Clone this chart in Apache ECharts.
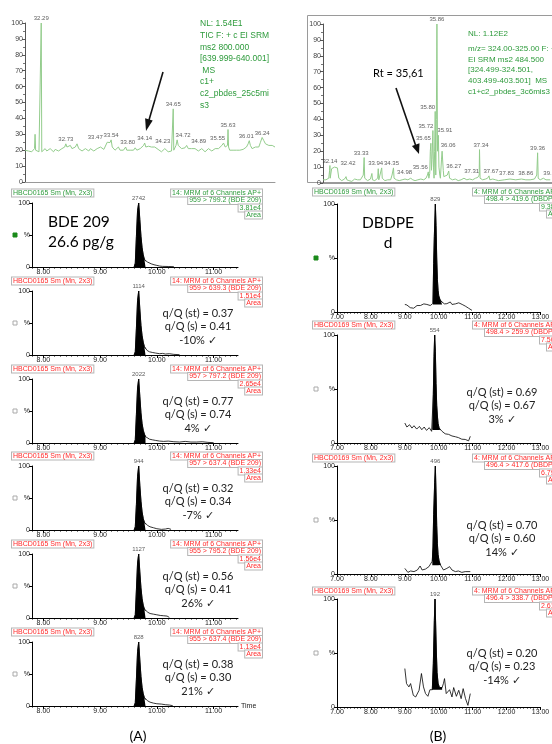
<!DOCTYPE html>
<html>
<head>
<meta charset="utf-8">
<script src="https://cdn.jsdelivr.net/npm/echarts@6/dist/echarts.min.js"></script>
<style>html,body{margin:0;padding:0;background:#fff}#main{width:552px;height:744px}</style>
</head>
<body>
<div id="main"></div>
<script>
// ---- top left: TIC survey trace (rel. abundance %) ----
var ticTrace = [[32.00,20],[32.03,21],[32.06,19.5],[32.09,20.5],[32.12,19],[32.15,20],[32.17,21],[32.18,30],[32.19,20],[32.22,19.5],[32.25,19],[32.28,19.5],[32.29,100],[32.30,19],
  [32.33,20],[32.36,21],[32.39,19.5],[32.42,20],[32.45,21],[32.48,20],[32.51,19],[32.54,20.5],[32.57,21],[32.60,19.5],[32.63,20],[32.66,21],[32.69,20],[32.71,22],[32.73,24],[32.75,22],
  [32.78,21],[32.81,23],[32.84,21],[32.87,20],[32.90,22],[32.93,24],[32.96,21],[32.99,20],[33.02,19.5],[33.05,20.5],[33.08,21],[33.11,20],[33.14,19.5],[33.17,21],[33.20,20],[33.23,19.5],
  [33.26,20],[33.29,21],[33.32,20],[33.35,22],[33.38,21],[33.41,20.5],[33.44,21],[33.47,25],[33.50,24.5],[33.52,24.8],[33.54,26.5],[33.56,22],[33.58,21],[33.61,20],[33.64,21],[33.67,22],
  [33.70,20],[33.73,19.5],[33.76,20],[33.78,21],[33.80,22],[33.82,20],[33.85,19],[33.88,20],[33.91,21],[33.94,20],[33.97,21.5],[34.00,20],[34.03,19.5],[34.06,21],[34.09,22],[34.12,23],
  [34.14,24.5],[34.16,22],[34.19,23],[34.21,22.5],[34.23,22.5],[34.26,22],[34.29,21.5],[34.32,22],[34.35,21],[34.38,20.5],[34.41,21],[34.44,19],[34.47,20],[34.50,21],[34.53,20],[34.56,19],
  [34.59,20],[34.62,19.5],[34.64,20],[34.65,46],[34.66,20],[34.68,21],[34.70,23],[34.72,26.5],[34.74,23],[34.77,22],[34.80,21],[34.83,22],[34.86,21.5],[34.89,23],[34.92,21],[34.95,20],
  [34.98,21],[35.01,22],[35.04,21],[35.07,20],[35.10,19.5],[35.13,20.5],[35.16,21],[35.19,20],[35.22,19],[35.25,20],[35.28,21],[35.31,20],[35.34,19.5],[35.37,20.5],[35.40,21],[35.43,22],
  [35.46,21],[35.49,22],[35.52,23],[35.55,24.5],[35.58,22],[35.61,21],[35.62,23],[35.63,33],[35.64,22],[35.66,20],[35.69,19.5],[35.72,20],[35.75,21],[35.78,20],[35.81,19.5],[35.84,20],
  [35.87,21],[35.90,20.5],[35.93,21],[35.96,22],[35.99,24],[36.01,26],[36.03,23],[36.06,21],[36.09,21.5],[36.12,22],[36.15,21],[36.18,22],[36.21,25],[36.24,28],[36.27,26],[36.30,24],
  [36.33,25],[36.36,23],[36.39,22],[36.42,23],[36.45,22],[36.47,22]];
var ticPeakTimes   = [32.29, 32.73, 33.47, 33.54, 33.80, 34.14, 34.23, 34.65, 34.72, 34.89, 35.55, 35.63, 36.01, 36.24];
var ticPeakHeights = [100,   24,    25,    26.5,  22,    24.5,  22.5,  46,    26.5,  23,    24.5,  33,    26,    28];
var ticInfo = ['NL: 1.54E1', 'TIC F: + c EI SRM', 'ms2 800.000', '[639.999-640.001]', ' MS', 'c1+', 'c2_pbdes_25c5mi', 's3'];

// ---- top right: SRM survey trace ----
var srmTrace = [[31.90,2],[31.95,1],[32.00,2],[32.05,1.5],[32.10,3],[32.13,8],[32.14,11],[32.15,3],[32.18,2],[32.20,9],[32.25,9.5],[32.30,10],[32.35,10],[32.40,9.5],[32.42,9.5],[32.45,3],
  [32.50,2],[32.55,1.5],[32.60,2],[32.65,2.5],[32.70,4],[32.73,2],[32.80,1.5],[32.85,2],[32.90,1],[32.95,2],[33.00,2.5],[33.05,1.5],[33.10,2],[33.15,1.5],[33.20,2],[33.25,3],[33.30,5],
  [33.33,16],[33.35,3],[33.40,2],[33.45,1.5],[33.50,2],[33.55,2.5],[33.60,6],[33.62,2],[33.70,1.5],[33.75,2],[33.80,3],[33.82,9],[33.84,2],[33.90,3],[33.94,9.5],[33.96,3],[34.00,2],
  [34.05,1.5],[34.10,2],[34.15,2],[34.20,3],[34.25,2],[34.30,5],[34.35,9.5],[34.37,3],[34.45,2],[34.55,1.5],[34.65,2],[34.75,2.5],[34.85,2],[34.95,3],[34.98,4],[35.02,2],[35.10,1.5],
  [35.20,2],[35.30,2.5],[35.40,2],[35.48,3],[35.53,5],[35.56,7],[35.58,3],[35.61,6],[35.63,20],[35.65,25],[35.67,8],[35.69,15],[35.72,33],[35.74,10],[35.76,3],[35.78,20],[35.80,45],
  [35.82,5],[35.84,40],[35.86,100],[35.88,20],[35.90,28],[35.91,30],[35.93,10],[35.96,5],[35.98,3],[36.02,15],[36.04,20],[36.06,21],[36.08,8],[36.10,4],[36.15,3],[36.22,5],[36.27,7.5],
  [36.30,3],[36.40,2],[36.50,2.5],[36.60,1.5],[36.70,2],[36.80,3],[36.90,2],[37.00,2.5],[37.10,2],[37.20,3],[37.28,3.5],[37.31,4.5],[37.33,5],[37.34,21],[37.36,3],[37.45,2],[37.55,2.5],
  [37.62,3],[37.67,4.5],[37.70,2],[37.80,2.5],[37.83,3],[37.90,2],[38.00,1.5],[38.20,2],[38.40,2.5],[38.60,2],[38.80,2.5],[38.86,3],[38.95,2],[39.10,2],[39.25,2.5],[39.33,5],[39.36,19],
  [39.38,3],[39.45,2],[39.56,3],[39.65,2],[39.80,2]];
var srmPeakTimes   = [32.14, 32.42, 33.33, 33.94, 34.35, 34.98, 35.56, 35.65, 35.72, 35.80, 35.86, 35.91, 36.06, 36.27, 37.31, 37.34, 37.67, 37.83, 38.86, 39.36, 39.56];
var srmPeakHeights = [11,    9.5,   16,    9.5,   9.5,   4,     7,     25,    33,    45,    100,   30,    21,    7.5,   4.5,   21,    4.5,   3,     3,     19,    3];
var srmInfo = ['NL: 1.12E2', 'm/z= 324.00-325.00 F: + c', 'EI SRM ms2 484.500', '[324.499-324.501,', '403.499-403.501]  MS', 'c1+c2_pbdes_3c6mis3'];

// label nudges (px) the instrument software applied to keep peak labels apart
var ticLabelDx = [0, 0, -12, 0, 2, 0, 13, 0, 6, 12, -6, 0, -3, 0];
var srmLabelDx = [0, 10, -3, -6, -2, -7, -8, -7.5, -7, -7.5, 0, 6.5, 5.5, 5, -7, 1.5, 2, 13, 2.5, 0, 7.5];

// ---- (A) BDE 209 MRM channels ----
var bde799  = [[9.60,0],[9.62,6],[9.64,48],[9.66,88],[9.68,100],[9.70,74],[9.72,48],[9.74,30],[9.76,19],[9.78,12],[9.80,9],[9.83,8],[9.86,7],[9.90,5],[9.95,3.5],[10.00,2.5],[10.05,1.5],[10.10,1],[10.20,0.8],[10.30,0.5]];
var bde639  = [[9.60,0],[9.62,5],[9.64,42],[9.66,85],[9.68,100],[9.70,72],[9.72,46],[9.74,30],[9.76,20],[9.78,13],[9.80,10],[9.83,7],[9.87,5],[9.92,4],[9.98,3],[10.05,2],[10.10,2.5],[10.15,1.5],[10.22,2],[10.30,1],[10.40,0.5]];
var bde797  = [[9.60,0],[9.62,5],[9.64,45],[9.66,86],[9.68,100],[9.70,73],[9.72,47],[9.74,30],[9.76,20],[9.78,14],[9.80,10],[9.83,8],[9.87,6],[9.92,5],[9.98,4],[10.05,3],[10.12,2.5],[10.20,3],[10.30,2],[10.40,1.5],[10.50,2.5],[10.60,1.5],[10.70,1.5],[10.80,2],[10.90,1],[11.00,0.5]];
var bde637a = [[9.60,0],[9.62,5],[9.64,40],[9.66,84],[9.68,100],[9.70,70],[9.72,45],[9.74,28],[9.76,18],[9.78,12],[9.80,9],[9.84,7],[9.88,5],[9.94,3.5],[10.00,2],[10.08,1],[10.15,1.5],[10.20,2.5],[10.25,1]];
var bde795  = [[9.60,0],[9.62,5],[9.64,44],[9.66,86],[9.68,100],[9.70,72],[9.72,47],[9.74,30],[9.76,20],[9.78,14],[9.80,11],[9.84,9],[9.88,7],[9.94,6],[10.00,5],[10.06,4],[10.12,3.5],[10.18,3],[10.22,1]];
var bde637b = [[9.60,0],[9.62,5],[9.64,42],[9.66,85],[9.68,100],[9.70,72],[9.72,46],[9.74,29],[9.76,19],[9.78,13],[9.80,10],[9.84,8],[9.88,6],[9.94,4.5],[10.00,3.5],[10.08,3],[10.15,2],[10.22,1.5],[10.28,0.5]];
var bdeTraces = [bde799, bde639, bde797, bde637a, bde795, bde637b];
var bdePeakTime = 9.68;
var bdePeakHeights = [2742, 1114, 2022, 944, 1127, 828];
var bdeFill = [9.60, 9.80];
var bdeTransitions = ['959 > 799.2 (BDE 209)', '959 > 639.3 (BDE 209)', '957 > 797.2 (BDE 209)', '957 > 637.4 (BDE 209)', '955 > 795.2 (BDE 209)', '955 > 637.4 (BDE 209)'];
var bdeAreas = ['3.81e4', '1.51e4', '2.65e4', '1.33e4', '1.56e4', '1.13e4'];
var bdeNotes = [null,
  ['q/Q (st) = 0.37', 'q/Q (s) = 0.41', '-10% \u2713'],
  ['q/Q (st) = 0.77', 'q/Q (s) = 0.74', '4% \u2713'],
  ['q/Q (st) = 0.32', 'q/Q (s) = 0.34', '-7% \u2713'],
  ['q/Q (st) = 0.56', 'q/Q (s) = 0.41', '26% \u2713'],
  ['q/Q (st) = 0.38', 'q/Q (s) = 0.30', '21% \u2713']];
var bdeTicks = [8, 9, 10, 11];

// ---- (B) DBDPE MRM channels ----
var dbdpe419 = [[9.00,7],[9.06,6.5],[9.11,5.6],[9.16,4],[9.21,2.5],[9.26,3.5],[9.31,4.6],[9.36,6],[9.41,6.8],[9.46,6],[9.51,6.2],[9.56,7.5],[9.60,8.7],[9.65,7],[9.70,6.8],[9.75,6],[9.80,7.7],[9.83,8],
  [9.85,45],[9.87,70],[9.90,100],[9.92,80],[9.94,50],[9.96,30],[9.98,20],[10.00,15],[10.03,12],[10.06,10],[10.10,9.8],[10.17,7.5],[10.24,7.7],[10.29,9],[10.34,9.3],[10.39,7],[10.44,5.6],
  [10.49,7.5],[10.54,7.7],[10.59,8.5],[10.64,6.8],[10.69,7],[10.73,7],[10.78,5.5],[10.83,4.6],[10.88,3.5],[10.93,2.2],[10.98,1.5]];
var dbdpe259 = [[9.00,18.5],[9.06,14.8],[9.14,16.9],[9.21,13.8],[9.27,16],[9.35,12.9],[9.43,15.4],[9.50,12.3],[9.57,14.8],[9.64,11.7],[9.72,14.2],[9.79,10.8],[9.82,12.3],[9.84,45],[9.86,80],
  [9.88,100],[9.90,85],[9.92,55],[9.94,35],[9.96,25],[9.98,18],[10.01,14],[10.04,12.3],[10.09,11],[10.14,9.2],[10.19,8.5],[10.24,7.7],[10.29,8],[10.34,6.2],[10.39,6.5],[10.44,5.5],[10.49,5.8],
  [10.53,4.6],[10.58,5],[10.63,4.6],[10.68,3.5],[10.73,3.1],[10.78,3.3],[10.83,2.5],[10.88,2],[10.93,6.2]];
var dbdpe417 = [[9.00,5.2],[9.09,1.5],[9.17,2.8],[9.27,2.2],[9.37,3.7],[9.45,7.4],[9.51,3.7],[9.61,4.6],[9.71,6.8],[9.81,12],[9.83,25],[9.85,55],[9.88,85],[9.90,100],[9.92,75],[9.94,45],
  [9.96,28],[9.98,18],[10.01,12],[10.05,8.3],[10.14,3.7],[10.24,5.2],[10.32,6.8],[10.39,3.7],[10.49,2.2],[10.58,2.8],[10.68,1.5],[10.78,2.2],[10.93,2.2]];
var dbdpe338 = [[9.00,35.6],[9.05,21.7],[9.12,18.6],[9.17,21.7],[9.25,10.8],[9.32,9.3],[9.42,15.5],[9.49,31],[9.55,18.6],[9.61,12.4],[9.68,9.9],[9.74,16],[9.81,16],[9.84,40],[9.87,80],
  [9.89,100],[9.91,75],[9.93,50],[9.95,32],[9.98,22],[10.02,18],[10.06,17],[10.10,18],[10.14,22],[10.17,26.3],[10.22,12.4],[10.27,11],[10.32,16],[10.39,9.3],[10.44,18],[10.52,9.9],
  [10.59,15.5],[10.66,7.7],[10.72,17],[10.79,7.7],[10.86,1.5],[10.93,12.4]];
var dbdpeTraces = [dbdpe419, dbdpe259, dbdpe417, dbdpe338];
var dbdpePeakTimes = [9.90, 9.88, 9.90, 9.89];
var dbdpePeakHeights = [829, 554, 496, 192];
var dbdpeFillFrom = [9.83, 9.82, 9.81, 9.81];
var dbdpeFillTo = [10.10, 10.04, 10.05, 10.10];
var dbdpeFillBase = [7, 12, 8, 16];
var dbdpeTransitions = ['498.4 > 419.6 (DBDPE)', '498.4 > 259.9 (DBDPE)', '496.4 > 417.6 (DBDPE)', '496.4 > 338.7 (DBDPE)'];
var dbdpeAreas = ['9.38e3', '7.50e3', '6.79e3', '2.61e3'];
var dbdpeNotes = [null,
  ['q/Q (st) = 0.69', 'q/Q (s) = 0.67', '3% \u2713'],
  ['q/Q (st) = 0.70', 'q/Q (s) = 0.60', '14% \u2713'],
  ['q/Q (st) = 0.20', 'q/Q (s) = 0.23', '-14% \u2713']];

var chart = echarts.init(document.getElementById('main'));
var FONT = '"Liberation Sans", Arial, sans-serif';
var NOTE_FONT = 'Lato, "Open Sans", sans-serif';
var GREEN = '#2e9b3c', RED = '#ff2b2b', TRACE_GREEN = '#93cc8c';

var option = { animation: false, grid: [], xAxis: [], yAxis: [], series: [], graphic: [] };

function text(str, x, y, o) {
  o = o || {};
  var st = {
    text: str, fill: o.color || '#000', fontSize: o.size || 7, fontFamily: o.font || FONT,
    align: o.align || 'left', verticalAlign: 'middle', textAlign: o.align || 'left', textVerticalAlign: 'middle'
  };
  if (o.box) { st.backgroundColor = '#fff'; st.borderColor = '#b5b5b5'; st.borderWidth = 1; st.padding = [0, 1, 0, 1]; }
  option.graphic.push({ type: 'text', x: x, y: y, z: 100, silent: true, style: st });
}

function addGrid(box, xa, ya) {
  var gi = option.grid.length;
  box.outerBoundsMode = 'none';
  option.grid.push(box);
  xa.gridIndex = gi; ya.gridIndex = gi;
  option.xAxis.push(xa); option.yAxis.push(ya);
  return { g: gi, x: option.xAxis.length - 1, y: option.yAxis.length - 1 };
}

function traceSeries(ax, data, color, width) {
  option.series.push({ type: 'line', xAxisIndex: ax.x, yAxisIndex: ax.y, data: data, showSymbol: false, silent: true,
    lineStyle: { color: color, width: width } });
}

function fillSeries(ax, data, from, to, base) {
  var part = data.filter(function (d) { return d[0] >= from && d[0] <= to; });
  option.series.push({ type: 'line', xAxisIndex: ax.x, yAxisIndex: ax.y, data: part, showSymbol: false, silent: true,
    lineStyle: { color: '#000', width: 0.8 }, areaStyle: { color: '#000', opacity: 1, origin: base } });
}

function peakLabels(ax, times, heights, fmt, size, dx) {
  option.series.push({ type: 'scatter', xAxisIndex: ax.x, yAxisIndex: ax.y, symbolSize: 1, silent: true,
    itemStyle: { color: 'rgba(0,0,0,0)' },
    data: times.map(function (t, i) {
      return { value: [t, heights[i]], name: fmt(i), label: { offset: [dx ? dx[i] : 0, 0] } };
    }),
    label: { show: true, position: 'top', distance: 1, formatter: '{b}', fontSize: size, fontFamily: FONT, color: '#333' } });
}

function surveyYAxis() {
  return { type: 'value', min: 0, max: 100, interval: 10,
    axisLine: { show: true, lineStyle: { color: '#555', width: 1 } },
    axisTick: { show: true, length: 3, lineStyle: { color: '#555' } },
    minorTick: { show: true, splitNumber: 2, length: 2, lineStyle: { color: '#777' } },
    axisLabel: { fontSize: 7, fontFamily: FONT, color: '#444', margin: 2 },
    splitLine: { show: false } };
}

// ---- top left survey ----
var tl = addGrid({ left: 25, top: 23, width: 250, height: 159 },
  { type: 'value', min: 32.0, max: 36.47, axisLine: { lineStyle: { color: '#999' } }, axisTick: { show: false }, axisLabel: { show: false }, splitLine: { show: false } },
  surveyYAxis());
traceSeries(tl, ticTrace, TRACE_GREEN, 1);
peakLabels(tl, ticPeakTimes, ticPeakHeights, function (i) { return ticPeakTimes[i].toFixed(2); }, 6, ticLabelDx);
ticInfo.forEach(function (s, i) { text(s, 200, 24 + i * 11.6, { color: GREEN, size: 8.5 }); });

// ---- top right survey ----
option.graphic.push({ type: 'rect', z: 0, silent: true, shape: { x: 307.5, y: 15.5, width: 260, height: 167 }, style: { fill: 'none', stroke: '#9a9a9a', lineWidth: 1 } });
var tr = addGrid({ left: 323, top: 24, width: 229, height: 159 },
  { type: 'value', min: 31.9, max: 39.86, axisLine: { lineStyle: { color: '#999' } }, axisTick: { show: false }, axisLabel: { show: false }, splitLine: { show: false } },
  surveyYAxis());
traceSeries(tr, srmTrace, TRACE_GREEN, 1);
peakLabels(tr, srmPeakTimes, srmPeakHeights, function (i) { return srmPeakTimes[i].toFixed(2); }, 6, srmLabelDx);
srmInfo.forEach(function (s, i) { text(s, 468, i === 0 ? 34 : 37.5 + i * 10.9, { color: GREEN, size: 8 }); });
text('Rt = 35,61', 373, 73, { size: 11, font: NOTE_FONT });

// arrows
option.graphic.push({ type: 'line', silent: true, z: 50, shape: { x1: 163, y1: 72, x2: 149, y2: 120 }, style: { stroke: '#111', lineWidth: 1.6 } });
option.graphic.push({ type: 'polygon', silent: true, z: 50, shape: { points: [[146, 131], [152.7, 120.5], [145.1, 118.3]] }, style: { fill: '#111' } });
option.graphic.push({ type: 'line', silent: true, z: 50, shape: { x1: 396, y1: 88, x2: 415.5, y2: 145 }, style: { stroke: '#111', lineWidth: 1.6 } });
option.graphic.push({ type: 'polygon', silent: true, z: 50, shape: { points: [[419, 154], [419.5, 143.3], [411.9, 145.9]] }, style: { fill: '#111' } });

// ---- MRM panel helpers ----
function mrmYAxis() {
  return { type: 'value', min: 0, max: 100, interval: 50,
    axisLine: { show: true, lineStyle: { color: '#000', width: 1 } },
    axisTick: { show: true, length: 3, lineStyle: { color: '#000' } },
    axisLabel: { fontSize: 7, fontFamily: FONT, color: '#222', margin: 2, formatter: function (v) { return v === 50 ? '%' : String(v); } },
    splitLine: { show: false } };
}

// ---- (A) panels ----
var leftZeroY = [267, 355, 443, 530, 618, 706];
var leftHeaderY = [193, 281, 369, 456, 544, 632];
var leftMinorTicks = [];
for (var k = 78; k <= 114; k++) leftMinorTicks.push(k / 10);

bdeTraces.forEach(function (tr6, i) {
  var last = i === bdeTraces.length - 1;
  var col = i === 0 ? GREEN : RED;
  var ax = addGrid({ left: 32, top: leftZeroY[i] - 64, width: 206, height: 64 },
    { type: 'value', min: 7.8, max: 11.43, position: 'bottom',
      axisLine: { lineStyle: { color: '#000', width: 1 } },
      axisTick: { customValues: bdeTicks, length: 3, lineStyle: { color: '#000' } },
      axisLabel: { customValues: bdeTicks, fontSize: 7, fontFamily: FONT, color: '#222', margin: 2, formatter: function (v) { return v.toFixed(2); } },
      splitLine: { show: false },
      name: last ? 'Time' : '', nameLocation: 'end', nameGap: 3, nameTextStyle: { fontSize: 7, fontFamily: FONT, color: '#222', verticalAlign: 'middle' } },
    mrmYAxis());
  option.xAxis.push({ type: 'value', gridIndex: ax.g, min: 7.8, max: 11.43, position: 'bottom',
    axisLine: { show: false }, axisTick: { customValues: leftMinorTicks, length: 1.5, lineStyle: { color: '#000' } },
    axisLabel: { show: false }, splitLine: { show: false } });
  fillSeries(ax, tr6, bdeFill[0], bdeFill[1], 0);
  traceSeries(ax, tr6, '#000', 0.8);
  peakLabels(ax, [bdePeakTime], [100], function () { return String(bdePeakHeights[i]); }, 6, null);

  var hy = leftHeaderY[i];
  text('HBCD0165 Sm (Mn, 2x3)', 12, hy, { color: col, box: true });
  text('14: MRM of 6 Channels AP+', 262, hy, { color: col, box: true, align: 'right' });
  text(bdeTransitions[i], 262, hy + 7.5, { color: col, box: true, align: 'right' });
  text(bdeAreas[i], 262, hy + 15, { color: col, box: true, align: 'right' });
  text('Area', 262, hy + 22, { color: col, box: true, align: 'right' });
  option.graphic.push({ type: 'rect', silent: true, shape: { x: 13, y: leftZeroY[i] - 34, width: 4, height: 4 },
    style: i === 0 ? { fill: '#1a8a1a', stroke: '#1a8a1a' } : { fill: '#fff', stroke: '#aaa', lineWidth: 1 } });
  if (bdeNotes[i]) {
    bdeNotes[i].forEach(function (s, j) { text(s, 198, hy + 32 + j * 13.5, { size: 11, font: NOTE_FONT, align: 'center', color: '#222' }); });
  }
});
text('BDE 209', 48, 222, { size: 15.5, font: NOTE_FONT });
text('26.6 pg/g', 48, 242, { size: 15.5, font: NOTE_FONT });
text('(A)', 138, 736, { size: 14, font: NOTE_FONT, align: 'center' });

// ---- (B) panels ----
var rightZeroY = [312, 443, 574, 707];
var rightHeaderY = [192, 325, 458, 591];
var rightNoteY = [0, 392, 525, 653];

dbdpeTraces.forEach(function (tr4, i) {
  var last = i === dbdpeTraces.length - 1;
  var col = i === 0 ? GREEN : RED;
  var ax = addGrid({ left: 337, top: rightZeroY[i] - 108, width: 203.5, height: 108 },
    { type: 'value', min: 7, max: 13, interval: 1,
      axisLine: { lineStyle: { color: '#000', width: 1 } },
      axisTick: { length: 3, lineStyle: { color: '#000' } },
      minorTick: { show: true, splitNumber: 10, length: 1.5, lineStyle: { color: '#000' } },
      axisLabel: { fontSize: 7, fontFamily: FONT, color: '#222', margin: 2, formatter: function (v) { return v.toFixed(2); } },
      splitLine: { show: false },
      name: last ? 'Time' : '', nameLocation: 'end', nameGap: 3, nameTextStyle: { fontSize: 7, fontFamily: FONT, color: '#222', verticalAlign: 'middle' } },
    mrmYAxis());
  fillSeries(ax, tr4, dbdpeFillFrom[i], dbdpeFillTo[i], dbdpeFillBase[i]);
  traceSeries(ax, tr4, '#000', 0.8);
  peakLabels(ax, [dbdpePeakTimes[i]], [100], function () { return String(dbdpePeakHeights[i]); }, 6, null);

  var hy = rightHeaderY[i];
  text('HBCD0169 Sm (Mn, 2x3)', 313, hy, { color: col, box: true });
  text('4: MRM of 6 Channels AP+', 473, hy, { color: col, box: true });
  text(dbdpeTransitions[i], 485, hy + 7.5, { color: col, box: true });
  text(dbdpeAreas[i], 540, hy + 15, { color: col, box: true });
  text('Area', 547, hy + 22, { color: col, box: true });
  option.graphic.push({ type: 'rect', silent: true, shape: { x: 314, y: rightZeroY[i] - 56, width: 4, height: 4 },
    style: i === 0 ? { fill: '#1a8a1a', stroke: '#1a8a1a' } : { fill: '#fff', stroke: '#aaa', lineWidth: 1 } });
  if (dbdpeNotes[i]) {
    dbdpeNotes[i].forEach(function (s, j) { text(s, 502, rightNoteY[i] + j * 13.5, { size: 11, font: NOTE_FONT, align: 'center', color: '#222' }); });
  }
});
text('DBDPE', 388, 223, { size: 15.5, font: NOTE_FONT, align: 'center' });
text('d', 388, 243, { size: 15.5, font: NOTE_FONT, align: 'center' });
text('(B)', 438, 736, { size: 14, font: NOTE_FONT, align: 'center' });

chart.setOption(option);
</script>
</body>
</html>
